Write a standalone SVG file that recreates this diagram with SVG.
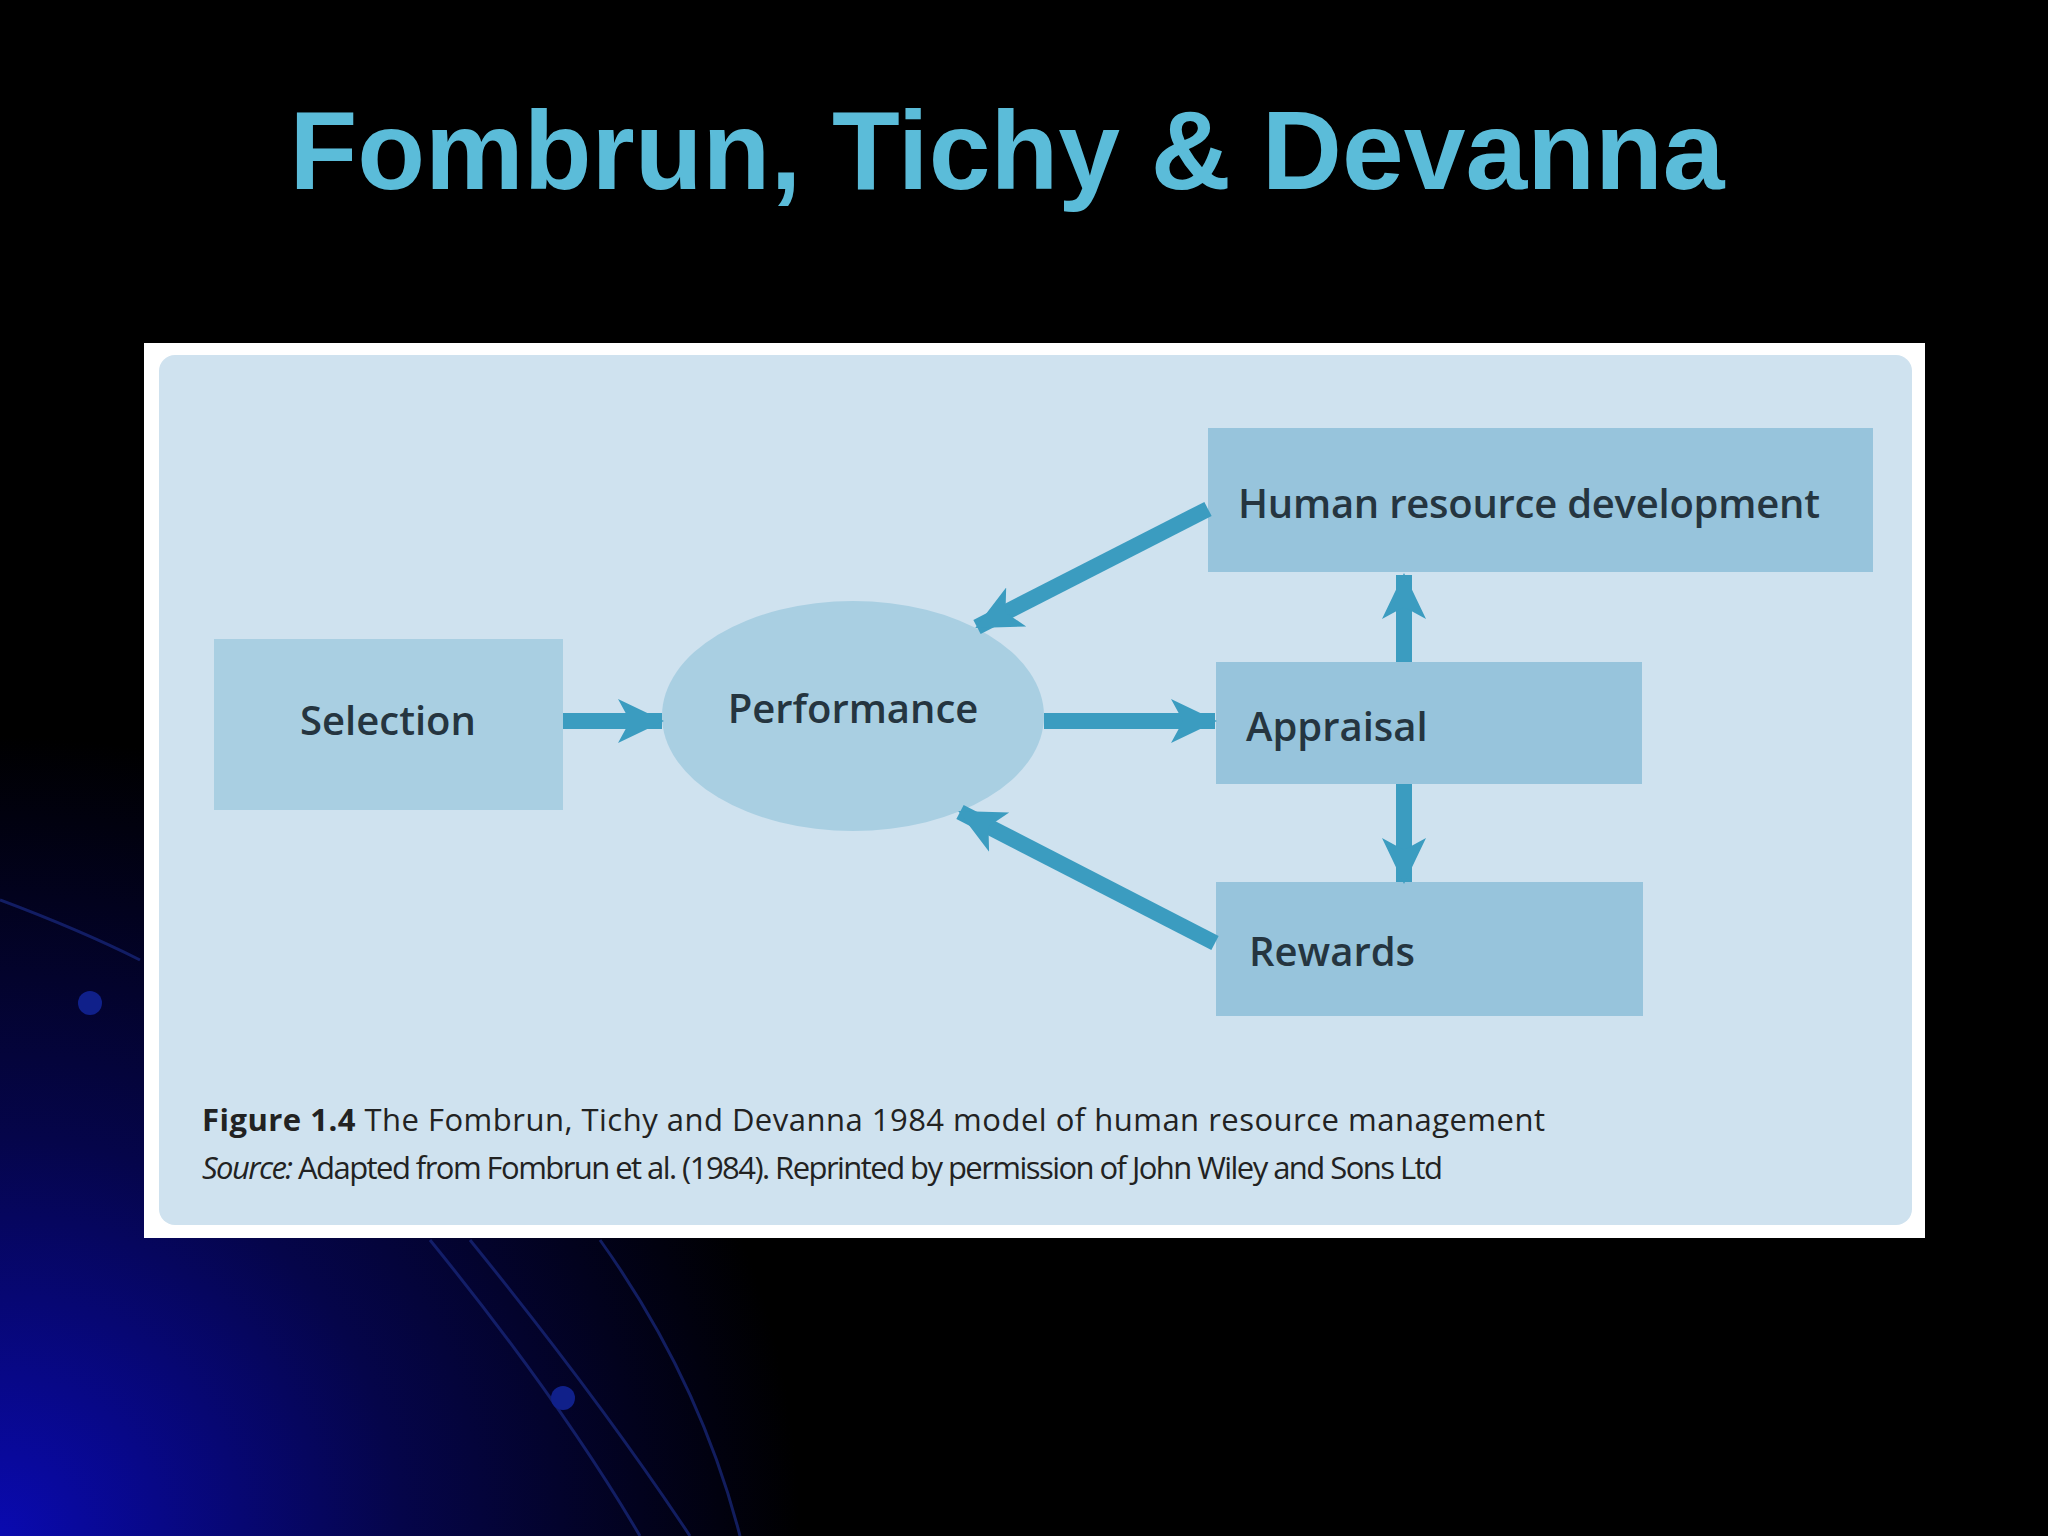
<svg xmlns="http://www.w3.org/2000/svg" width="2048" height="1536" viewBox="0 0 2048 1536">
<defs>
<radialGradient id="bg" cx="0" cy="1536" r="800" gradientUnits="userSpaceOnUse">
<stop offset="0" stop-color="#0a0ab0"/><stop offset="0.5" stop-color="#05054a"/><stop offset="1" stop-color="#000"/>
</radialGradient>
<marker id="ah" markerUnits="userSpaceOnUse" markerWidth="50" markerHeight="50" refX="44" refY="25" orient="auto-start-reverse">
<path d="M0,3 L46,25 L0,47 L12,25 Z" fill="#3b9cc0"/>
</marker>
<style>
.c{stroke:#3b9cc0;stroke-width:16;fill:none}
.t{font-family:"Open Sans","DejaVu Sans",sans-serif;fill:#253540;font-size:40px;font-weight:600}
.cap{font-family:"Open Sans","DejaVu Sans",sans-serif;fill:#222;font-size:31px}
</style>
</defs>
<rect width="2048" height="1536" fill="#000"/>
<rect width="2048" height="1536" fill="url(#bg)"/>
<g fill="none" stroke="#1a2a80" stroke-width="3" opacity="0.7">
<path d="M430,1240 Q560,1400 640,1536"/><path d="M470,1240 Q600,1400 690,1536"/><path d="M600,1240 Q700,1380 740,1536"/>
<path d="M0,900 Q80,930 140,960"/>
</g>
<circle cx="90" cy="1003" r="12" fill="#10208a"/><circle cx="563" cy="1398" r="12" fill="#10208a"/>
<text x="1007" y="189" text-anchor="middle" font-family="Liberation Sans,Arial,sans-serif" font-weight="bold" font-size="111" fill="#5bbcd9">Fombrun, Tichy &amp; Devanna</text>
<rect x="144" y="343" width="1781" height="895" fill="#fff"/>
<rect x="159" y="355" width="1753" height="870" rx="16" fill="#cfe2ef"/>
<g id="selection"><rect x="214" y="639" width="349" height="171" fill="#a9cfe2"/><text class="t" x="388" y="735" text-anchor="middle">Selection</text></g>
<g id="performance"><ellipse cx="853" cy="716" rx="191" ry="115" fill="#a9cfe2"/><text class="t" x="853" y="723" text-anchor="middle">Performance</text></g>
<g id="hrd"><rect x="1208" y="428" width="665" height="144" fill="#97c4dc"/><text class="t" x="1238" y="518" textLength="582">Human resource development</text></g>
<g id="appraisal"><rect x="1216" y="662" width="426" height="122" fill="#97c4dc"/><text class="t" x="1246" y="741">Appraisal</text></g>
<g id="rewards"><rect x="1216" y="882" width="427" height="134" fill="#97c4dc"/><text class="t" x="1249" y="966">Rewards</text></g>
<g id="connectors">
<line class="c" x1="563" y1="721" x2="662" y2="721" marker-end="url(#ah)"/>
<line class="c" x1="1044" y1="721" x2="1215" y2="721" marker-end="url(#ah)"/>
<line class="c" x1="1208" y1="509" x2="977" y2="627" marker-end="url(#ah)"/>
<line class="c" x1="1215" y1="943" x2="960" y2="812" marker-end="url(#ah)"/>
<line class="c" x1="1404" y1="662" x2="1404" y2="575" marker-end="url(#ah)"/>
<line class="c" x1="1404" y1="784" x2="1404" y2="882" marker-end="url(#ah)"/>
</g>
<text class="cap" x="202" y="1131" textLength="1343"><tspan font-weight="bold">Figure 1.4</tspan>  The Fombrun, Tichy and Devanna 1984 model of human resource management</text>
<text class="cap" x="202" y="1179" font-size="27" textLength="1241"><tspan font-style="italic">Source:</tspan> Adapted from Fombrun et al. (1984). Reprinted by permission of John Wiley and Sons Ltd</text>
</svg>
